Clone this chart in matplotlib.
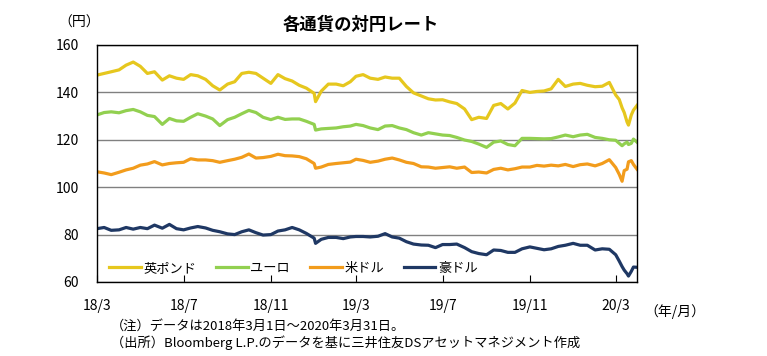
import matplotlib
matplotlib.use("Agg")
import matplotlib.pyplot as plt
import pandas as pd

plt.rcParams['font.family'] = ['Noto Sans CJK JP', 'DejaVu Sans']

# dates: 1st, 11th, 21st of each month, plus a few extra days
dates = []
for y, m in pd.period_range("2018-03", "2020-02", freq="M").map(lambda p: (p.year, p.month)):
    for d in (1, 11, 21):
        dates.append(f"{y}-{m:02d}-{d:02d}")
        if (y, m, d) == (2019, 1, 1):
            dates.append("2019-01-03")
dates += ["2020-03-01", "2020-03-06", "2020-03-10", "2020-03-13", "2020-03-17",
          "2020-03-19", "2020-03-23", "2020-03-26", "2020-03-31"]
dates = pd.to_datetime(dates)

gbp = [147.3, 148.0, 148.7, 149.5, 151.5, 152.8, 151.0, 148.0, 148.7,
       145.2, 147.0, 146.0, 145.5, 147.5, 147.0, 145.5, 142.8, 141.0,
       143.5, 144.5, 148.0, 148.5, 148.0, 146.0, 143.8, 147.5, 145.8,
       144.8, 143.0, 141.8, 139.6, 136.1, 140.5, 143.5, 143.5, 142.8, 144.5,
       146.8, 147.5, 146.0, 145.5, 146.5, 146.0, 146.0, 142.5, 139.8,
       138.5, 137.3, 136.8, 136.9, 136.0, 135.3, 133.0, 128.5, 129.5,
       129.0, 134.5, 135.3, 133.0, 135.5, 140.8, 140.0, 140.4, 140.6,
       141.5, 145.5, 142.5, 143.5, 143.8, 143.0, 142.4, 142.6, 144.2,
       138.9, 137.0, 133.5, 131.5, 127.5, 126.2, 130.5, 132.5, 134.5]
eur = [130.5, 131.5, 131.8, 131.4, 132.3, 132.8, 131.8, 130.3, 129.8,
       126.5, 129.0, 128.0, 127.8, 129.5, 131.0, 130.0, 128.8, 126.0,
       128.5, 129.5, 131.0, 132.4, 131.5, 129.5, 128.5, 129.5, 128.6,
       128.8, 128.8, 127.8, 126.5, 124.1, 124.6, 124.8, 125.0, 125.5, 125.8,
       126.5, 126.0, 125.0, 124.3, 125.8, 126.0, 125.0, 124.3, 123.0,
       122.0, 123.0, 122.5, 122.0, 121.8, 121.0, 119.9, 119.3, 118.2,
       116.8, 119.0, 119.5, 118.0, 117.5, 120.6, 120.6, 120.5, 120.4,
       120.5, 121.2, 122.0, 121.3, 122.0, 122.3, 121.0, 120.6, 120.0,
       119.8, 118.5, 117.5, 118.3, 119.0, 118.0, 118.5, 120.3, 119.0]
usd = [106.5, 106.0, 105.3, 106.3, 107.3, 108.0, 109.3, 109.8, 110.8,
       109.4, 110.0, 110.3, 110.5, 112.0, 111.5, 111.5, 111.2, 110.5,
       111.2, 111.8, 112.6, 114.0, 112.3, 112.5, 113.0, 113.9, 113.3,
       113.2, 112.9, 112.0, 110.0, 108.0, 108.5, 109.6, 110.0, 110.3, 110.6,
       111.8, 111.3, 110.5, 111.0, 111.8, 112.3, 111.5, 110.5, 110.0,
       108.6, 108.5, 108.0, 108.3, 108.6, 108.0, 108.5, 106.2, 106.4,
       106.0, 107.5, 108.0, 107.3, 107.8, 108.5, 108.5, 109.2, 108.9,
       109.3, 109.0, 109.6, 108.7, 109.5, 109.8, 109.0, 110.0, 111.6,
       108.3, 105.4, 102.5, 107.0, 107.6, 110.7, 111.2, 109.6, 107.6]
aud = [82.5, 83.0, 81.8, 82.0, 83.0, 82.3, 83.0, 82.5, 84.0,
       82.7, 84.3, 82.5, 82.0, 82.8, 83.4, 82.8, 81.8, 81.2,
       80.3, 80.0, 81.2, 82.0, 80.8, 79.8, 80.0, 81.5, 82.0,
       83.0, 82.0, 80.5, 78.5, 76.3, 78.0, 78.8, 78.8, 78.3, 79.0,
       79.2, 79.2, 79.0, 79.3, 80.4, 79.0, 78.5, 77.0, 76.0,
       75.6, 75.5, 74.5, 75.8, 75.8, 76.0, 74.5, 72.8, 72.0,
       71.5, 73.5, 73.3, 72.5, 72.5, 74.0, 74.8, 74.2, 73.6,
       74.0, 75.0, 75.5, 76.3, 75.5, 75.5, 73.5, 74.0, 73.8,
       71.5, 68.8, 66.5, 65.0, 63.5, 62.5, 64.5, 66.3, 66.2]

names = ["英ポンド", "ユーロ", "米ドル", "豪ドル"]
colors = ["#E6C71E", "#92D050", "#F29C1C", "#1F3864"]

fig = plt.figure(figsize=(7.67, 3.56), dpi=100)
ax = fig.add_axes([0.1265, 0.2079, 0.704, 0.6657])

for vals, name, c in zip([gbp, eur, usd, aud], names, colors):
    ax.plot(dates, vals, color=c, lw=2.3, label=name)

ax.set_ylim(60, 160)
ax.set_yticks(range(60, 161, 20))
ax.set_xlim(pd.Timestamp("2018-03-01"), pd.Timestamp("2020-03-31"))
xt = pd.date_range("2018-03-01", "2020-03-01", freq="4MS")
ax.set_xticks(xt)
ax.set_xticklabels([d.strftime("%y/") + str(d.month) for d in xt])
ax.grid(axis="y", color="#808080", lw=1)
ax.tick_params(axis="x", direction="in", length=5, pad=12, labelsize=10)
ax.tick_params(axis="y", length=0, pad=13, labelsize=10)
for s in ax.spines.values():
    s.set_color("black")
    s.set_linewidth(1)

ax.legend(loc="lower left", bbox_to_anchor=(0.0, -0.02), ncol=4, frameon=False,
          fontsize=9.5, handlelength=2.4, columnspacing=1.5, handletextpad=0.2)

fig.text(0.47, 0.93, "各通貨の対円レート", ha="center", va="center",
         fontsize=12.5, fontweight="bold")
fig.text(0.103, 0.935, "（円）", ha="center", va="center", fontsize=10)
fig.text(0.88, 0.125, "（年/月）", ha="center", va="center", fontsize=10)
fig.text(0.145, 0.085, "（注）データは2018年3月1日～2020年3月31日。",
         ha="left", va="center", fontsize=9.5)
fig.text(0.145, 0.038, "（出所）Bloomberg L.P.のデータを基に三井住友DSアセットマネジメント作成",
         ha="left", va="center", fontsize=9.5)

fig.savefig("out.png", dpi=100)
